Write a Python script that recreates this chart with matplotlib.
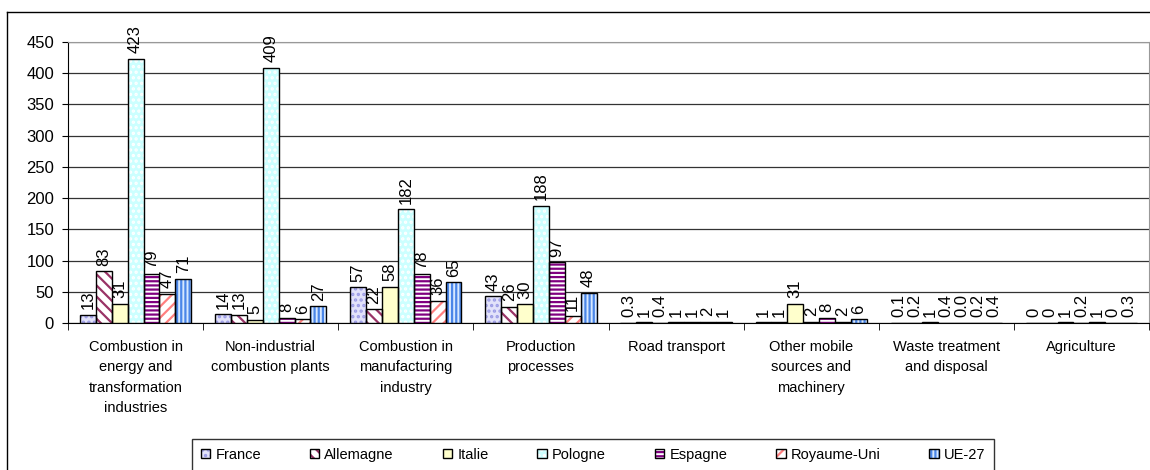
import matplotlib
matplotlib.use('Agg')
import matplotlib.pyplot as plt
import numpy as np
from matplotlib.lines import Line2D

plt.rcParams['font.family'] = ['Liberation Sans', 'DejaVu Sans']
plt.rcParams['hatch.linewidth'] = 1.6

# DATA
categories = ['Combustion in\nenergy and\ntransformation\nindustries',
              'Non-industrial\ncombustion plants',
              'Combustion in\nmanufacturing\nindustry',
              'Production\nprocesses',
              'Road transport',
              'Other mobile\nsources and\nmachinery',
              'Waste treatment\nand disposal',
              'Agriculture']
countries = ['France', 'Allemagne', 'Italie', 'Pologne', 'Espagne', 'Royaume-Uni', 'UE-27']

france = [13, 14, 57, 43, 0.3, 1, 0.1, 0]
allemagne = [83, 13, 22, 26, 1, 1, 0.2, 0]
italie = [31, 5, 58, 30, 0.4, 31, 1, 1]
pologne = [423, 409, 182, 188, 1, 2, 0.4, 0.2]
espagne = [79, 8, 78, 97, 1, 8, 0.04, 1]
royaume_uni = [47, 6, 36, 11, 2, 2, 0.2, 0]
ue27 = [71, 27, 65, 48, 1, 6, 0.4, 0.3]
series = [france, allemagne, italie, pologne, espagne, royaume_uni, ue27]

# styles: (face, hatch, hatch colour)
styles = [('#E2E2FA', '...', '#9C9CE6'),
          ('white', '\\\\\\', '#993366'),
          ('#FFFFCC', None, '#FFFFCC'),
          ('#CCFFFF', '...', '#FFFFFF'),
          ('white', '----', '#800080'),
          ('white', '///', '#FF8080'),
          ('#D6E8FF', '||||', '#4A86E8')]

def fmt(v):
    if 0 < v < 1:
        return '%.1f' % v
    return '%g' % v

fig = plt.figure(figsize=(11.5, 4.7), dpi=100)
ax = fig.add_axes([68 / 1150, 1 - 323 / 470, (1149 - 68) / 1150, (323 - 42) / 470])

x = np.arange(len(categories))
w = 0.1175
handles = []
for i, (vals, (fc, hatch, hc)) in enumerate(zip(series, styles)):
    pos = x - 3 * w + i * w
    ax.bar(pos, vals, w, color=fc, hatch=hatch, edgecolor=hc, linewidth=0, zorder=3)
    ax.bar(pos, vals, w, fill=False, edgecolor='black', linewidth=1, zorder=4)
    for xp, v in zip(pos, vals):
        ax.annotate(fmt(v), (xp, v), xytext=(0, 4), textcoords='offset points',
                    rotation=90, ha='center', va='bottom', fontsize=12)
    p1 = plt.Rectangle((0, 0), 1, 1, facecolor=fc, hatch=hatch, edgecolor=hc, linewidth=0)
    p2 = plt.Rectangle((0, 0), 1, 1, fill=False, edgecolor='black', linewidth=1)
    handles.append((p1, p2))

ax.set_xlim(-0.5, len(categories) - 0.5)
ax.set_ylim(0, 450)
ax.set_yticks(np.arange(0, 451, 50))
ax.tick_params(axis='y', labelsize=12, length=4, direction='out', pad=6)
ax.set_xticks(x)
ax.set_xticklabels(categories, fontsize=10.5, linespacing=1.6)
ax.tick_params(axis='x', which='major', length=0, pad=12)
ax.set_xticks(np.arange(-0.5, len(categories), 1), minor=True)
ax.tick_params(axis='x', which='minor', length=5, direction='out')
ax.yaxis.grid(True, color='#333333', linewidth=0.9, zorder=0)
ax.set_axisbelow(True)
for s in ['top', 'right']:
    ax.spines[s].set_color('#999999')
for s in ['left', 'bottom']:
    ax.spines[s].set_color('black')

# outer chart border
fig.add_artist(Line2D([7 / 1150, 7 / 1150], [-0.1, 1 - 12 / 470], color='black', lw=1))
fig.add_artist(Line2D([7 / 1150, 1.1], [1 - 12 / 470, 1 - 12 / 470], color='black', lw=1))

leg = fig.legend(handles, countries, loc='upper left', bbox_to_anchor=(192 / 1150, 1 - 439 / 470),
                 ncol=7, fontsize=10.5, frameon=True, fancybox=False, edgecolor='black',
                 handlelength=0.65, handleheight=0.65, handletextpad=0.35, columnspacing=3.35,
                 borderpad=0.6, borderaxespad=0)
leg.get_frame().set_linewidth(1)

fig.savefig('out.png', dpi=100)
